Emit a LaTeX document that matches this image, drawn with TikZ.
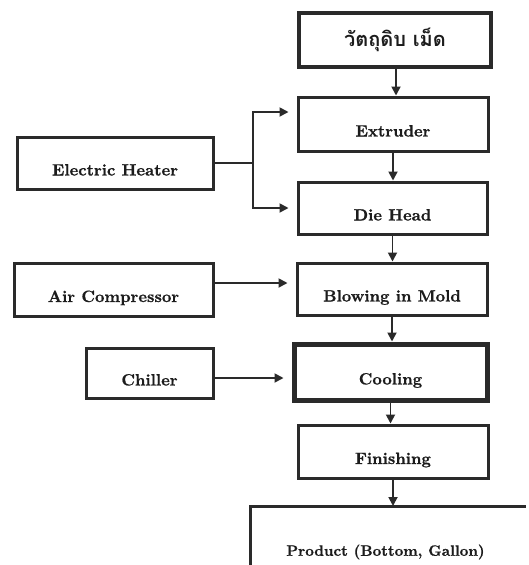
\documentclass[tikz,border=0pt]{standalone}
\usepackage{fontspec}
\newfontfamily\thaifont[Script=Thai]{Loma}
\newfontfamily\labelfont{lmroman10-bold.otf}[FakeBold=0.8]
\usetikzlibrary{arrows.meta}
\definecolor{ink}{HTML}{2A2A2A}
\definecolor{txt}{HTML}{1C1C1C}
\tikzset{
  frame/.style={draw=ink, line width=3pt, fill=white, inner sep=0pt, text=txt},
  box/.style={frame, font=\labelfont\fontsize{16.4}{18}\selectfont,
    text height=25pt, text depth=0pt},
  link/.style={draw=ink, line width=1.8pt},
  flow/.style={link, -{Triangle[length=9pt,width=9pt]}},
  feed/.style={flow, shorten >=8pt},
}
\begin{document}
\begin{tikzpicture}[x=1pt,y=-1pt]
\useasboundingbox (0,0) rectangle (528,565);
\fill[white] (0,0) rectangle (528,565);

% main process column
\node[frame, line width=3.5pt, minimum width=192pt, minimum height=54pt,
  font=\thaifont\fontsize{20}{22}\selectfont\bfseries] (raw) at (395,40) {วัตถุดิบ เม็ด};
\node[box, minimum width=190pt, minimum height=54pt] (ext) at (393,124) {Extruder};
\node[box, minimum width=189pt, minimum height=52pt] (die) at (392.5,208) {Die Head};
\node[box, minimum width=190pt, minimum height=52pt] (blow) at (392,289) {Blowing in Mold};
\node[box, line width=5pt, minimum width=193pt, minimum height=56pt] (cool) at (390.5,372) {Cooling};
\node[box, minimum width=190pt, minimum height=53pt] (fin) at (393,451.5) {Finishing};

% product box runs past the lower and right edges: only its top and left sides show
\node[anchor=north west, inner sep=0pt, minimum width=276pt, minimum height=59pt] (prod) at (250,506) {};
\draw[ink, line width=3pt] (prod.south west) -- (prod.north west) -- (prod.north east);
\node[text=txt, font=\labelfont\fontsize{15}{17}\selectfont] (prodlabel) at (385.5,552) {Product (Bottom, Gallon)};

% utilities
\node[box, minimum width=196pt, minimum height=52pt] (heater) at (115,163) {Electric Heater};
\node[box, minimum width=199pt, minimum height=53pt] (air) at (113.5,289.5) {Air Compressor};
\node[box, minimum width=127pt, minimum height=50pt] (chill) at (149.5,373) {Chiller};

% process flow
\draw[flow] (raw.south -| 396,0) -- (396,0 |- ext.north);
\draw[flow] (ext.south) -- (ext.south |- die.north);
\draw[flow] (die.south) -- (die.south |- blow.north);
\draw[flow] (blow.south) -- (blow.south |- cool.north);
\draw[flow] (cool.south) -- (cool.south |- fin.north);
\draw[flow] (fin.south) -- (fin.south |- prod.north);

% heater feeds both extruder and die head
\coordinate (fork) at (253,163);
\coordinate (forkup) at (253,112);
\draw[link] (heater.east) -- (fork);
\draw[feed] (fork) -- (forkup) -- (forkup -| ext.west);
\draw[feed] (fork) |- (die.west);

\draw[feed] ([yshift=6.5pt]air.east) -- ([yshift=6.5pt]air.east -| blow.west);
\draw[feed] ([yshift=-5pt]chill.east) -- ([yshift=-5pt]chill.east -| cool.west);
\end{tikzpicture}
\end{document}
